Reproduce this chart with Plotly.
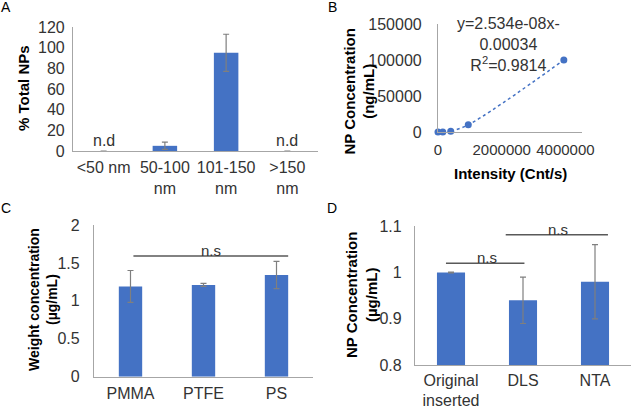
import plotly.graph_objects as go

# ---------------- data ----------------
# Panel A
a_cats = ["<50 nm", "50-100<br>nm", "101-150<br>nm", ">150<br>nm"]
a_vals = [0, 5, 95, 0]
a_errs = [0, 3.5, 18, 0]
a_nd_cats = ["<50 nm", ">150<br>nm"]
a_yticks = [0, 20, 40, 60, 80, 100, 120]

# Panel B
b_x = [0, 150000, 400000, 950000, 3950000]
b_y = [0, 100, 1000, 10000, 100000]
b_trend_x = [400000, 950000, 3950000]
b_trend_y = [1000, 10000, 100000]
b_xticks = [0, 2000000, 4000000]
b_yticks = [0, 50000, 100000, 150000]
b_eq = ["y=2.534e-08x-", "0.00034", "R<sup>2</sup>=0.9814"]

# Panel C
c_cats = ["PMMA", "PTFE", "PS"]
c_vals = [1.19, 1.21, 1.34]
c_errs = [0.21, 0.02, 0.18]
c_yticks = [0, 0.5, 1, 1.5, 2]

# Panel D
d_cats = ["Original<br>inserted", "DLS", "NTA"]
d_vals = [1.0, 0.94, 0.98]
d_errs = [0.0008, 0.05, 0.08]
d_yticks = [0.8, 0.9, 1.0, 1.1]

W, H = 631, 408
BLUE = "#4472C4"
AX = "#a6a6a6"
ERR = "#7f7f7f"
FONT = "Liberation Sans, Arial, sans-serif"
TICKC = "#333333"

def px_x(p):
    return p / W

def px_y(p):
    return 1 - p / H

fig = go.Figure()

err_style = dict(type="data", color=ERR, thickness=1.2, width=3)

fig.add_trace(go.Bar(x=a_cats, y=a_vals, width=0.4, marker_color=BLUE,
                     error_y=dict(array=a_errs, **err_style),
                     xaxis="x", yaxis="y", showlegend=False))
fig.add_trace(go.Scatter(x=b_trend_x, y=b_trend_y, mode="lines",
                         line=dict(color=BLUE, width=1.5, dash="dot", shape="spline"),
                         xaxis="x2", yaxis="y2", showlegend=False))
fig.add_trace(go.Scatter(x=b_x, y=b_y, mode="markers",
                         marker=dict(color=BLUE, size=7),
                         xaxis="x2", yaxis="y2", showlegend=False, cliponaxis=False))
fig.add_trace(go.Bar(x=c_cats, y=c_vals, width=0.32, marker_color=BLUE,
                     error_y=dict(array=c_errs, **err_style),
                     xaxis="x3", yaxis="y3", showlegend=False))
fig.add_trace(go.Bar(x=d_cats, y=d_vals, width=0.39, marker_color=BLUE,
                     error_y=dict(array=d_errs, **err_style),
                     xaxis="x4", yaxis="y4", showlegend=False))

tickfont = dict(family=FONT, size=16, color=TICKC)

def xax(domain, anchor, **kw):
    d = dict(domain=domain, anchor=anchor, showline=True, linecolor=AX, linewidth=1.2,
             showgrid=False, zeroline=False, ticks="", tickfont=tickfont, tickangle=0,
             ticklabelstandoff=2, automargin=False, fixedrange=True)
    d.update(kw)
    return d

def yax(domain, anchor, **kw):
    d = dict(domain=domain, anchor=anchor, showline=True, linecolor=AX, linewidth=1.2,
             showgrid=False, zeroline=False, ticks="", tickfont=tickfont,
             automargin=False, fixedrange=True)
    d.update(kw)
    return d

fig.update_layout(
    template="none",
    width=W, height=H, margin=dict(l=0, r=0, t=0, b=0, pad=0, autoexpand=False),
    paper_bgcolor="white", plot_bgcolor="white",
    font=dict(family=FONT, size=15, color="black"),
    xaxis=xax([px_x(73), px_x(318)], "y", type="category"),
    yaxis=yax([px_y(151), px_y(27)], "x", range=[0, 120], tickvals=a_yticks,
              ticklabelstandoff=4),
    xaxis2=xax([px_x(438), px_x(582)], "y2", range=[0, 4520000], tickvals=b_xticks,
               ticktext=[str(v) for v in b_xticks], ticklabelstandoff=4,
               tickfont=dict(family=FONT, size=15, color=TICKC)),
    yaxis2=yax([px_y(132), px_y(24)], "x2", range=[0, 150000], tickvals=b_yticks,
               ticktext=[str(v) for v in b_yticks], ticklabelstandoff=12),
    xaxis3=xax([px_x(94), px_x(313)], "y3", type="category"),
    yaxis3=yax([px_y(376.7), px_y(225)], "x3", range=[0, 2], tickvals=c_yticks,
               ticktext=["0", "0.5", "1", "1.5", "2"], ticklabelstandoff=10),
    xaxis4=xax([px_x(415), px_x(631)], "y4", type="category", ticklabelstandoff=0),
    yaxis4=yax([px_y(365.3), px_y(226)], "x4", range=[0.8, 1.1], tickvals=d_yticks,
               ticktext=["0.8", "0.9", "1", "1.1"], ticklabelstandoff=9),
)

ann = []
# panel letters
for lab, x, y in [("A", 6, 7), ("B", 332, 7), ("C", 6, 208), ("D", 332, 208)]:
    ann.append(dict(text=lab, x=px_x(x), y=px_y(y), xref="paper", yref="paper",
                    xanchor="center", yanchor="middle", showarrow=False,
                    font=dict(family=FONT, size=14, color="black")))
# axis titles
bold = dict(family=FONT, size=15, color="black")
ann.append(dict(text="<b>% Total NPs</b>", x=px_x(23), y=px_y(88), xref="paper", yref="paper",
                textangle=-90, showarrow=False, xanchor="center", yanchor="middle", font=bold))
ann.append(dict(text="<b>NP Concentration<br>(ng/mL)</b>", x=px_x(358.5), y=px_y(91),
                xref="paper", yref="paper", textangle=-90, showarrow=False,
                xanchor="center", yanchor="middle", font=bold))
ann.append(dict(text="<b>Intensity (Cnt/s)</b>", x=px_x(510), y=px_y(173),
                xref="paper", yref="paper", showarrow=False,
                xanchor="center", yanchor="middle", font=bold))
ann.append(dict(text="<b>Weight concentration<br>(µg/mL)</b>", x=px_x(43), y=px_y(300),
                xref="paper", yref="paper", textangle=-90, showarrow=False,
                xanchor="center", yanchor="middle", font=dict(family=FONT, size=14, color="black")))
ann.append(dict(text="<b>NP Concentration<br>(µg/mL)</b>", x=px_x(361), y=px_y(295),
                xref="paper", yref="paper", textangle=-90, showarrow=False,
                xanchor="center", yanchor="middle", font=bold))
# equation
ann.append(dict(text="<br>".join(b_eq), x=px_x(508), y=px_y(44), xref="paper", yref="paper",
                showarrow=False, xanchor="center", yanchor="middle",
                font=dict(family=FONT, size=16, color=TICKC)))
# n.d labels
for c in a_nd_cats:
    ann.append(dict(text="n.d", x=c, y=10.5, xref="x", yref="y", showarrow=False,
                    xanchor="center", yanchor="middle", font=dict(family=FONT, size=16, color=TICKC)))
# n.s labels
ann.append(dict(text="n.s", x=1.1, y=1.67, xref="x3", yref="y3", showarrow=False,
                xanchor="center", yanchor="middle", font=dict(family=FONT, size=15, color=TICKC)))
ann.append(dict(text="n.s", x=0.5, y=1.032, xref="x4", yref="y4", showarrow=False,
                xanchor="center", yanchor="middle", font=dict(family=FONT, size=15, color=TICKC)))
ann.append(dict(text="n.s", x=1.48, y=1.092, xref="x4", yref="y4", showarrow=False,
                xanchor="center", yanchor="middle", font=dict(family=FONT, size=15, color=TICKC)))
fig.update_layout(annotations=ann)

line = dict(color="#595959", width=1.5)
fig.update_layout(shapes=[
    dict(type="line", xref="x3", yref="y3", x0=0.04, x1=2.16, y0=1.59, y1=1.59, line=line),
    dict(type="line", xref="x4", yref="y4", x0=-0.07, x1=1.02, y0=1.02, y1=1.02, line=line),
    dict(type="line", xref="x4", yref="y4", x0=0.76, x1=2.18, y0=1.081, y1=1.081, line=line),
])

fig.write_html("out.html", config={"displayModeBar": False})
